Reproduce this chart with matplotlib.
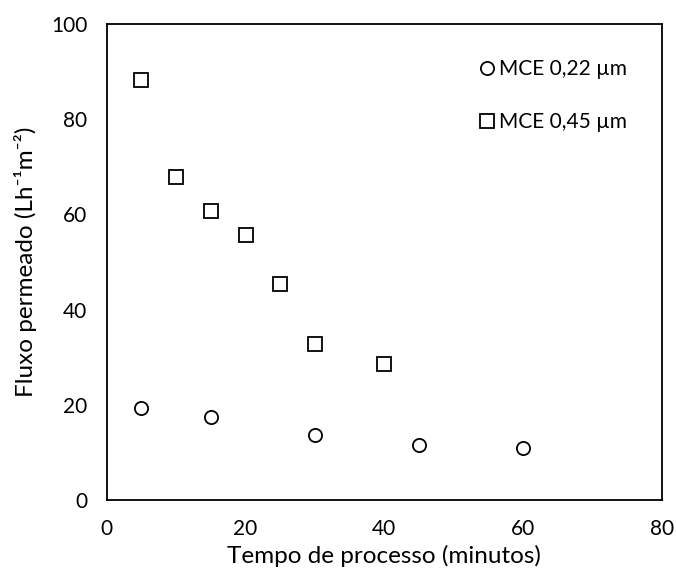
import matplotlib
matplotlib.use("Agg")
import matplotlib.pyplot as plt

plt.rcParams['font.family'] = ['Lato', 'DejaVu Sans']

# process time (min) and permeate flux
t_022 = [5, 15, 30, 45, 60]
flux_022 = [19.3, 17.4, 13.7, 11.6, 10.9]
t_045 = [5, 10, 15, 20, 25, 30, 40]
flux_045 = [88.2, 67.9, 60.7, 55.7, 45.4, 32.8, 28.6]

fig = plt.figure(figsize=(6.76, 5.74), dpi=100)
ax = fig.add_axes([0.158, 0.129, 0.821, 0.829])

ax.plot(t_022, flux_022, 'o', mfc='white', mec='black', mew=1.3, ms=9.5,
        label='MCE 0,22 µm')
ax.plot(t_045, flux_045, 's', mfc='white', mec='black', mew=1.3, ms=9.5,
        label='MCE 0,45 µm')

ax.set_xlim(0, 80)
ax.set_ylim(0, 100)
ax.set_xticks([0, 20, 40, 60, 80])
ax.set_yticks([0, 20, 40, 60, 80, 100])
ax.tick_params(length=0, labelsize=15, pad=14)
for s in ax.spines.values():
    s.set_linewidth(1.3)

ax.set_xlabel('Tempo de processo (minutos)', fontsize=17.5, labelpad=4)
ax.set_ylabel('Fluxo permeado (Lh⁻¹m⁻²)', fontsize=17.5, labelpad=10)

ax.legend(loc='upper left', bbox_to_anchor=(0.666, 0.927), frameon=False,
          fontsize=15, handletextpad=0.1, labelspacing=1.6,
          borderaxespad=0, borderpad=0, handlelength=1.0)

fig.savefig('out.png', dpi=100)
